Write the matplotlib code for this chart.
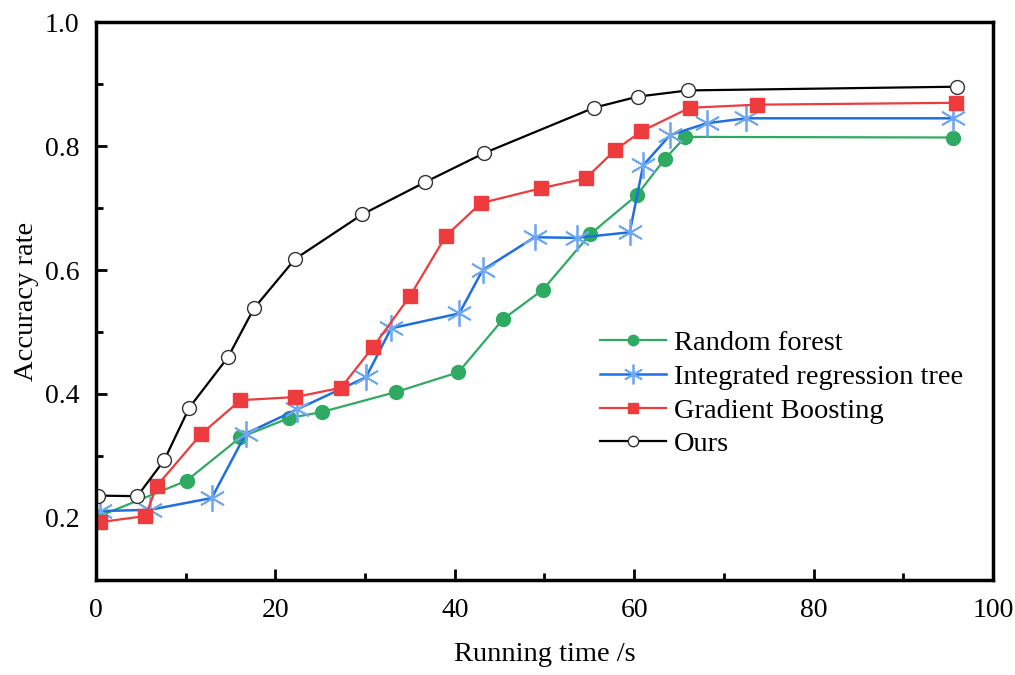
import numpy as np
import matplotlib
matplotlib.use("Agg")
import matplotlib.pyplot as plt
from matplotlib.ticker import MultipleLocator

plt.rcParams['font.family'] = ['Liberation Serif', 'DejaVu Serif']

# Random forest
rf_x = [0.4, 10.1, 16.1, 21.5, 25.2, 33.4, 40.4, 45.4, 49.8, 55.1, 60.3, 63.4, 65.7, 95.5]
rf_y = [0.203, 0.260, 0.330, 0.361, 0.371, 0.403, 0.435, 0.521, 0.568, 0.658, 0.721, 0.779, 0.815, 0.814]

# Integrated regression tree
irt_x = [0.4, 6.0, 12.9, 16.7, 22.4, 30.1, 32.9, 40.5, 43.1, 48.9, 53.6, 59.5, 61.0, 64.0, 68.1, 72.5, 95.5]
irt_y = [0.211, 0.213, 0.232, 0.336, 0.375, 0.427, 0.506, 0.530, 0.600, 0.653, 0.652, 0.661, 0.769, 0.818, 0.837, 0.845, 0.845]

# Gradient Boosting
gb_x = [0.4, 5.5, 6.8, 11.7, 16.1, 22.2, 27.3, 30.9, 35.0, 39.0, 42.9, 49.6, 54.6, 57.9, 60.8, 66.2, 73.7, 95.9]
gb_y = [0.193, 0.203, 0.252, 0.335, 0.390, 0.395, 0.410, 0.476, 0.558, 0.655, 0.708, 0.732, 0.748, 0.794, 0.824, 0.862, 0.867, 0.870]

# Ours
ours_x = [0.2, 4.6, 7.6, 10.4, 14.7, 17.6, 22.2, 29.7, 36.7, 43.3, 55.5, 60.4, 66.0, 96.0]
ours_y = [0.236, 0.235, 0.293, 0.378, 0.459, 0.538, 0.618, 0.690, 0.742, 0.789, 0.862, 0.880, 0.890, 0.896]

fig = plt.figure(figsize=(10.15, 6.75), dpi=100)
ax = fig.add_axes([0.0946, 0.141, 0.8837, 0.826])

ax.plot(rf_x, rf_y, '-o', color='#2FAA62', lw=1.6, ms=10, label='Random forest')
ax.plot(irt_x, irt_y, '-', color='#1F6FE0', lw=1.8, marker=(6, 2, 0), ms=19,
        mec='#6FA8F0', mew=1.3, label='Integrated regression tree')
ax.plot(gb_x, gb_y, '-s', color='#EE3B3D', lw=1.6, ms=10, label='Gradient Boosting')
ax.plot(ours_x, ours_y, '-o', color='black', lw=1.6, ms=10, mfc='white', mec='#333333',
        mew=1.0, label='Ours')

ax.set_xlim(0, 100)
ax.set_ylim(0.1, 1.0)
ax.xaxis.set_major_locator(MultipleLocator(20))
ax.xaxis.set_minor_locator(MultipleLocator(10))
ax.yaxis.set_major_locator(MultipleLocator(0.2))
ax.yaxis.set_minor_locator(MultipleLocator(0.1))
ax.tick_params(which='both', direction='in', width=2, labelsize=20)
ax.tick_params(which='major', length=8)
ax.tick_params(which='minor', length=5)
ax.tick_params(axis='x', pad=13)
ax.tick_params(axis='y', pad=12)
for sp in ax.spines.values():
    sp.set_linewidth(2.5)

ax.set_xlabel('Running time /s', fontsize=20.5, labelpad=14)
ax.set_ylabel('Accuracy rate', fontsize=20.5, labelpad=4)

ax.legend(loc='center left', bbox_to_anchor=(0.562, 0.334), frameon=False,
          fontsize=20.5, handlelength=2.3, handletextpad=0.3, labelspacing=0.28,
          borderpad=0, borderaxespad=0, markerscale=0.75)

fig.savefig('out.png', dpi=100)
